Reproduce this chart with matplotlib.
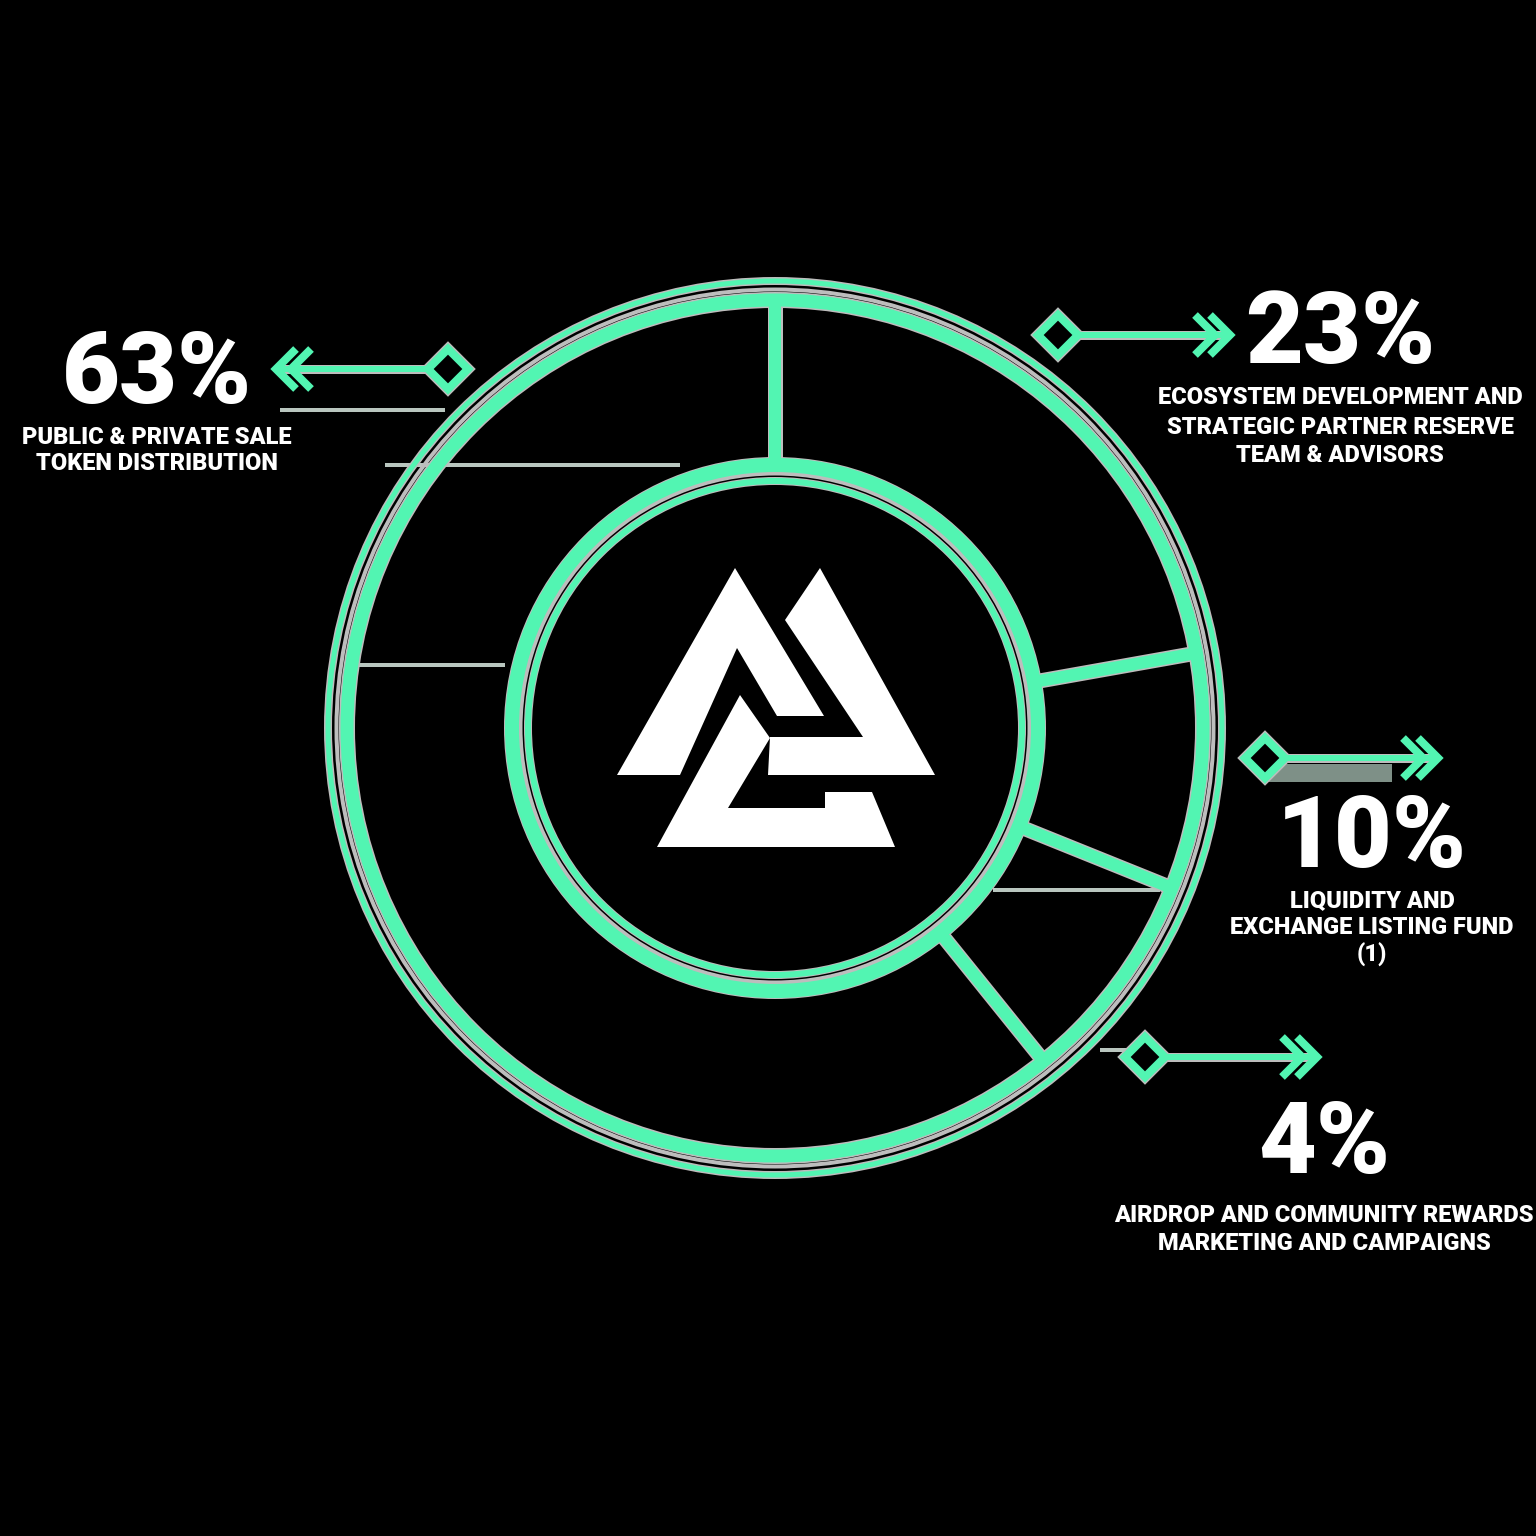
"""
Allocation ring infographic - mint ring on black, four callouts with
diamond + double-chevron arrows, white mountain logo in the centre.
"""

import numpy as np
import matplotlib as mpl
import matplotlib.pyplot as plt
from matplotlib.patches import Circle, Polygon, Rectangle

# ── data (clockwise from 12 o'clock) ─────────────────────────────────────────
PCT_LABELS = ["23%", "10%", "4%", "63%"]
SUB_LABELS = [
    ["ECOSYSTEM DEVELOPMENT AND", "STRATEGIC PARTNER RESERVE", "TEAM & ADVISORS"],
    ["LIQUIDITY AND", "EXCHANGE LISTING FUND", "(1)"],
    ["AIRDROP AND COMMUNITY REWARDS", "MARKETING AND CAMPAIGNS"],
    ["PUBLIC & PRIVATE SALE", "TOKEN DISTRIBUTION"],
]
# arc share of each segment as drawn on the ring (not to scale with labels)
ARC_SHARE = [22.2, 8.9, 8.1, 60.8]

# ── style ────────────────────────────────────────────────────────────────────
GREEN = "#52F5B2"
HALO  = "#BDBDBD"
FAINT = "#B9C6BF"
WHITE = "#FFFFFF"
PX    = 0.72                      # points per pixel at dpi 100
FONT  = ["Roboto", "DejaVu Sans"]

mpl.rcParams.update({
    "font.family": FONT,
    "figure.facecolor": "black",
    "axes.facecolor": "black",
})

fig = plt.figure(figsize=(15.36, 15.36), dpi=100)
ax = fig.add_axes([0, 0, 1, 1])
ax.set_xlim(0, 1536)
ax.set_ylim(1536, 0)
ax.set_aspect("equal")
ax.axis("off")

CX, CY = 775, 728
R_OUT_THIN, R_OUT, R_IN, R_IN_THIN = 447, 428, 263, 247

# ── faint leftover guide lines ──────────────────────────────────────────────
for (x0, x1, y) in [(280, 445, 410), (385, 680, 465), (350, 505, 665),
                    (993, 1160, 890), (1100, 1135, 1050)]:
    ax.plot([x0, x1], [y, y], color=FAINT, lw=4 * PX, zorder=1,
            solid_capstyle="butt")
ax.add_patch(Rectangle((1262, 764), 130, 18, fc="#A9C2B5", ec="none",
                       alpha=0.75, zorder=1))

# ── rings ────────────────────────────────────────────────────────────────────
def ring(r, w, color, z):
    ax.add_patch(Circle((CX, CY), r, fill=False, ec=color, lw=w * PX, zorder=z))

ring(R_OUT_THIN, 8, HALO, 2)
ring((R_OUT_THIN + R_OUT) / 2 + 1, 4, HALO, 2)
ring(R_OUT, 16, HALO, 2)
ring(R_OUT_THIN, 5, GREEN, 3)
ring(R_OUT, 13, GREEN, 3)
ring(R_IN, 16, HALO, 2)
ring((R_IN + R_IN_THIN) / 2, 5, HALO, 2)
ring(R_IN_THIN, 8, HALO, 2)
ring(R_IN, 14, GREEN, 3)
ring(R_IN_THIN, 6, GREEN, 3)

# ── segment dividers from the arc shares ────────────────────────────────────
bounds = 90 - np.cumsum([0] + ARC_SHARE[:-1]) * 3.6
for a in bounds:
    t = np.deg2rad(a)
    xs = CX + np.array([R_IN, R_OUT]) * np.cos(t)
    ys = CY - np.array([R_IN, R_OUT]) * np.sin(t)
    ax.plot(xs, ys, color=HALO, lw=15 * PX, zorder=2, solid_capstyle="butt")
    ax.plot(xs, ys, color=GREEN, lw=12 * PX, zorder=3, solid_capstyle="butt")

# ── callouts ─────────────────────────────────────────────────────────────────
# (diamond x, y, chevron tip x, direction, pct text x, y, subtitle y0, pitch)
CALLOUTS = [
    (1058, 335, 1230, +1, 1340, 336, 398, 29),
    (1265, 758, 1438, +1, 1372, 840, 901, 27),
    (1145, 1057, 1317, +1, 1324, 1145, 1216, 27),
    (448, 369, 276, -1, 157, 376, 437, 27),
]

def diamond(x, y, h=20):
    pts = [(x, y - h), (x + h, y), (x, y + h), (x - h, y)]
    ax.add_patch(Polygon(pts, closed=True, fc="black", ec=HALO, lw=11 * PX, zorder=4))
    ax.add_patch(Polygon(pts, closed=True, fc="black", ec=GREEN, lw=8 * PX, zorder=5))

def chevrons(tip, y, d):
    for off in (0, 15):
        tx = tip - d * off
        xs = [tx - d * 20, tx, tx - d * 20]
        ys = [y - 20, y, y + 20]
        ax.plot(xs, ys, color=GREEN, lw=8 * PX, zorder=5,
                solid_joinstyle="miter", solid_capstyle="butt")

for i, (dx, dy, tip, d, tx, ty, sy, pitch) in enumerate(CALLOUTS):
    ax.plot([dx + d * 20, tip - d * 6], [dy, dy], color=HALO, lw=9 * PX, zorder=4)
    ax.plot([dx + d * 20, tip - d * 6], [dy, dy], color=GREEN, lw=6 * PX, zorder=5)
    diamond(dx, dy)
    chevrons(tip, dy, d)
    ax.text(tx, ty, PCT_LABELS[i], color=WHITE, fontsize=72, fontweight="black",
            ha="center", va="center", family=FONT, zorder=6)
    for k, line in enumerate(SUB_LABELS[i]):
        ax.text(tx, sy + k * pitch, line, color=WHITE, fontsize=17,
                fontweight="black", ha="center", va="center", family=FONT,
                zorder=6)

# ── centre logo ──────────────────────────────────────────────────────────────
LOGO = [
    [(735, 568), (824, 716), (777, 716), (737, 648), (680, 775), (617, 775)],
    [(820, 568), (935, 775), (768, 775), (770, 737), (863, 737), (785, 620)],
    [(740, 695), (770, 738), (728, 808), (825, 808), (825, 792), (872, 792),
     (895, 847), (657, 847)],
]
for poly in LOGO:
    ax.add_patch(Polygon(poly, closed=True, fc=WHITE, ec="none", zorder=6))

fig.savefig("out.png", dpi=100, facecolor="black")
